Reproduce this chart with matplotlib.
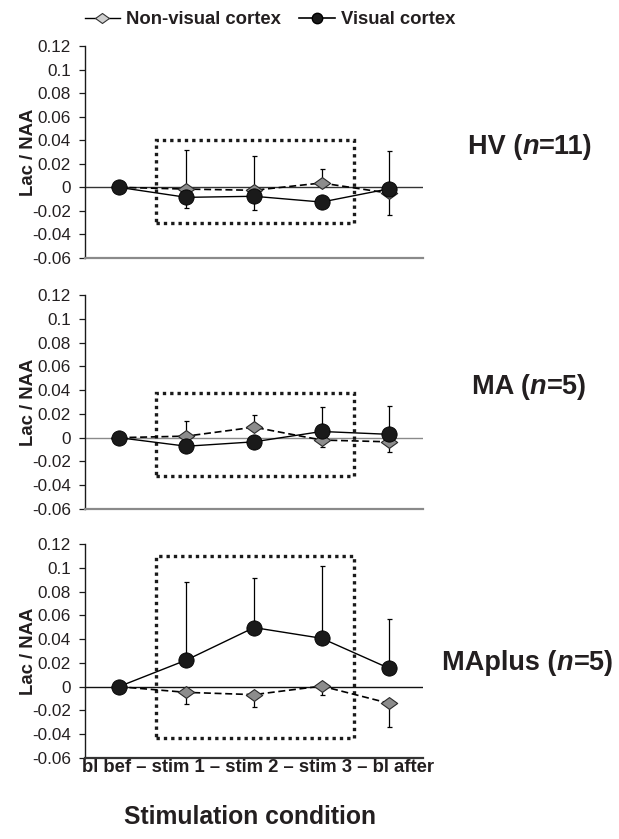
import matplotlib
matplotlib.use("Agg")
import matplotlib.pyplot as plt
import numpy as np
from matplotlib.path import Path
from matplotlib.lines import Line2D
from matplotlib.patches import Rectangle

plt.rcParams['font.family'] = ['Liberation Sans', 'DejaVu Sans']

# ---------------- data ----------------
categories = ["bl bef", "stim 1", "stim 2", "stim 3", "bl after"]
groups = ["HV", "MA", "MAplus"]
group_n = [11, 5, 5]

visual_hv = [0, -0.0085, -0.0076, -0.0125, -0.0012]
visual_hv_lo = [0, 0.0093, 0.0114, 0, 0.0223]
visual_hv_hi = [0, 0, 0, 0, 0]
nonvis_hv = [0, -0.0015, -0.0025, 0.0037, -0.005]
nonvis_hv_lo = [0, 0, 0, 0, 0]
nonvis_hv_hi = [0, 0.0329, 0.0294, 0.0122, 0.036]

visual_ma = [0, -0.0072, -0.0035, 0.0052, 0.0028]
visual_ma_lo = [0, 0, 0, 0, 0]
visual_ma_hi = [0, 0, 0, 0.0203, 0.0237]
nonvis_ma = [0, 0.0013, 0.0088, -0.002, -0.0035]
nonvis_ma_lo = [0, 0, 0, 0.0058, 0.0083]
nonvis_ma_hi = [0, 0.0123, 0.0106, 0, 0]

visual_map = [0, 0.0224, 0.0497, 0.0407, 0.0154]
visual_map_lo = [0, 0, 0, 0, 0]
visual_map_hi = [0, 0.066, 0.0417, 0.0608, 0.0418]
nonvis_map = [0, -0.0048, -0.0067, 0.0005, -0.014]
nonvis_map_lo = [0, 0.0101, 0.0104, 0.0078, 0.0197]
nonvis_map_hi = [0, 0, 0, 0, 0]

# dotted "stimulation" boxes: (x0, x1) in category units and (y0, y1)
box_x = (0.55, 3.48)
box_y = [(-0.030, 0.040), (-0.0324, 0.0377), (-0.0429, 0.110)]

yticks = [-0.06, -0.04, -0.02, 0, 0.02, 0.04, 0.06, 0.08, 0.1, 0.12]
ytick_labels = ["-0.06", "-0.04", "-0.02", "0", "0.02", "0.04", "0.06", "0.08", "0.1", "0.12"]

# --------------------------------------
TXT = '#231f20'
diamond = Path([(-1, 0), (0, 0.72), (1, 0), (0, -0.72), (-1, 0)],
               [Path.MOVETO, Path.LINETO, Path.LINETO, Path.LINETO, Path.CLOSEPOLY])

W, H = 619, 839
fig = plt.figure(figsize=(W / 100, H / 100), dpi=100)

panels = [
    (visual_hv, visual_hv_lo, visual_hv_hi, nonvis_hv, nonvis_hv_lo, nonvis_hv_hi),
    (visual_ma, visual_ma_lo, visual_ma_hi, nonvis_ma, nonvis_ma_lo, nonvis_ma_hi),
    (visual_map, visual_map_lo, visual_map_hi, nonvis_map, nonvis_map_lo, nonvis_map_hi),
]
axes_px = [(46, 258), (295, 509), (544, 758)]
zero_colors = ['#333333', '#8a8a8a', '#111111']
bottom_colors = ['#8a8a8a', '#8a8a8a', '#333333']
label_pos = [(468, 147), (472, 387), (442, 663)]
LBL_FS = 19.5

x = np.arange(len(categories))
left_px, right_px = 85, 423

for i, (vis, vlo, vhi, nv, nlo, nhi) in enumerate(panels):
    top, bot = axes_px[i]
    ax = fig.add_axes([left_px / W, 1 - bot / H, (right_px - left_px) / W, (bot - top) / H])
    ax.set_xlim(-0.5, 4.5)
    ax.set_ylim(-0.06, 0.12)
    ax.axhline(0, color=zero_colors[i], lw=1.0, zorder=1)

    # dotted box
    (y0, y1) = box_y[i]
    rect = Rectangle((box_x[0], y0), box_x[1] - box_x[0], y1 - y0, fill=False,
                     edgecolor='#1a1a1a', lw=2.4, linestyle=(0, (1, 1.2)), zorder=1.5)
    rect.set_capstyle('butt')
    ax.add_patch(rect)

    # non-visual cortex
    ax.errorbar(x, nv, yerr=[nlo, nhi], fmt='none', ecolor='black', elinewidth=0.9,
                capsize=1.8, capthick=0.9, zorder=2)
    ax.plot(x, nv, color='black', lw=1.2, linestyle=(0, (4.2, 2.2)), zorder=3,
            marker=diamond, markersize=11.8, markerfacecolor='#8c8c8c',
            markeredgecolor='#2a2a2a', markeredgewidth=0.8)
    # visual cortex
    ax.errorbar(x, vis, yerr=[vlo, vhi], fmt='none', ecolor='black', elinewidth=0.9,
                capsize=1.8, capthick=0.9, zorder=2)
    ax.plot(x, vis, color='black', lw=1.0, zorder=4, marker='o', markersize=11,
            markerfacecolor='#1a1a1a', markeredgecolor='black', markeredgewidth=0.6)

    ax.spines['top'].set_visible(False)
    ax.spines['right'].set_visible(False)
    ax.spines['left'].set_color('#1a1a1a')
    ax.spines['left'].set_linewidth(1.0)
    ax.spines['bottom'].set_color(bottom_colors[i])
    ax.spines['bottom'].set_linewidth(1.6)
    ax.set_xticks([])
    ax.set_yticks(yticks)
    ax.set_yticklabels(ytick_labels)
    ax.tick_params(axis='y', direction='out', length=4, width=0.9, pad=6,
                   labelsize=12.3, labelcolor=TXT, color='#1a1a1a')
    ax.set_ylabel("Lac / NAA", fontsize=13.3, fontweight='bold', color=TXT)
    ax.yaxis.set_label_coords(-0.143, 0.5)

    # group label with italic n
    lx, ly = label_pos[i]
    yf = 1 - ly / H
    t1 = fig.text(lx / W, yf, f"{groups[i]} (", fontsize=LBL_FS, fontweight='bold',
                  color=TXT, ha='left', va='center')
    fig.canvas.draw()
    bb = t1.get_window_extent()
    t2 = fig.text(bb.x1 / W, yf, "n", fontsize=LBL_FS, fontweight='bold', style='italic',
                  color=TXT, ha='left', va='center')
    fig.canvas.draw()
    bb2 = t2.get_window_extent()
    fig.text(bb2.x1 / W + 0.5 / W, yf, f"={group_n[i]})", fontsize=LBL_FS,
             fontweight='bold', color=TXT, ha='left', va='center')

# x category text and axis title
fig.text(258 / W, 1 - 767 / H, " \u2013 ".join(categories), fontsize=13.3,
         fontweight='bold', color=TXT, ha='center', va='center')
fig.text(250 / W, 1 - 817 / H, "Stimulation condition", fontsize=17.8,
         fontweight='bold', color=TXT, ha='center', va='center')

# legend
h_nv = Line2D([], [], color='black', lw=1.0, marker=diamond, markersize=10,
              markerfacecolor='#d0d0d0', markeredgecolor='#333333', markeredgewidth=0.8)
h_v = Line2D([], [], color='black', lw=1.2, marker='o', markersize=7.5,
             markerfacecolor='#1a1a1a', markeredgecolor='black')
leg = fig.legend([h_nv, h_v], ["Non-visual cortex", "Visual cortex"], loc='center',
                 bbox_to_anchor=(270 / W, 1 - 20 / H), ncol=2, frameon=False,
                 handlelength=1.9, handletextpad=0.35, columnspacing=1.0,
                 prop={'weight': 'bold', 'size': 13.3})
for t in leg.get_texts():
    t.set_color(TXT)

fig.savefig("out.png", dpi=100)
